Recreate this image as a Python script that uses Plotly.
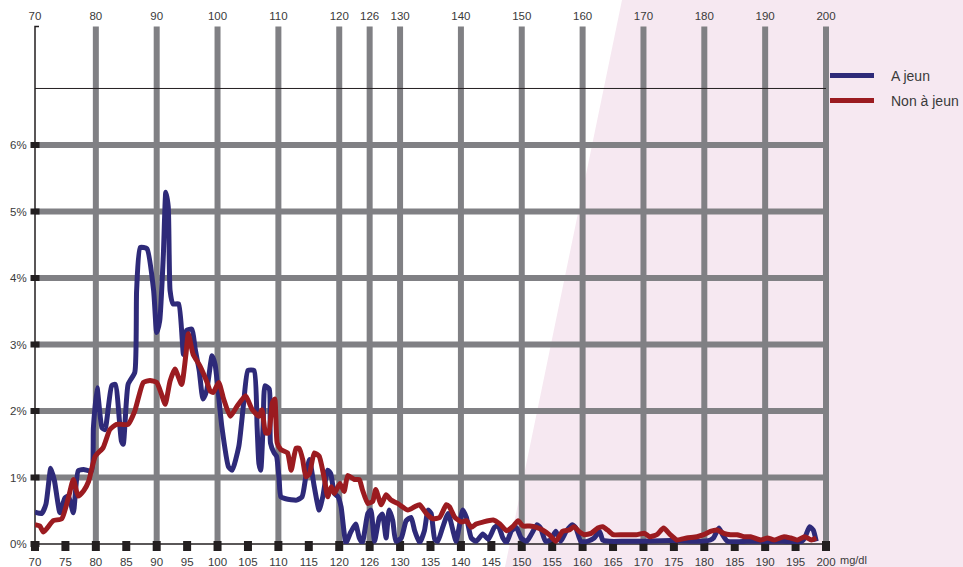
import plotly.graph_objects as go

# Répartition des glycémies (mg/dl) — fréquence en %
A_JEUN_X = [70, 71.1, 71.8, 72.6, 73.2, 74.1, 74.9, 75.5, 76.3, 77.1, 78.0, 79.3, 79.6, 80.2,
            81.0, 81.5, 82.6, 83.2, 84.2, 84.5, 85.3, 86.4, 86.7, 87.3, 88.4, 89.5, 90.0,
            90.5, 91.1, 91.5, 91.9, 92.2, 92.7, 93.6, 94.4, 94.9, 95.8, 96.3, 97.0, 97.6,
            98.2, 99.1, 99.6, 100.7, 101.8, 102.4, 103.5, 104.3, 105.0, 106.0, 106.5,
            106.8, 107.1, 107.5, 107.8, 108.5, 108.7, 109.3, 109.7, 110.1, 110.4, 111.2,
            113.0, 113.9, 114.5, 115.1, 115.9, 116.7, 117.3, 118.1, 118.6, 119.2, 119.8,
            120.3, 121.1, 121.9, 122.7, 123.3, 123.8, 124.7, 125.2, 125.8, 126.6, 127.1,
            127.7, 128.2, 128.8, 129.3, 130.2, 131.0, 131.8, 132.4, 133.2, 134.0, 134.6,
            135.1, 135.7, 136.2, 137.0, 137.9, 138.7, 139.2, 139.8, 140.3, 140.9, 141.7,
            142.5, 143.6, 144.5, 145.5, 146.1, 146.9, 147.5, 148.3, 149.1, 149.9, 150.8,
            151.6, 152.5, 153.1, 153.9, 154.7, 155.6, 156.4, 157.3, 158.3, 158.9, 159.7,
            160.8, 161.9, 162.8, 163.3, 164.4, 167.0, 170.0, 173.0, 176.0, 179.0, 181.0,
            181.5, 182.4, 183.0, 183.8, 187.0, 190.0, 193.0, 196.0, 196.5, 197.3, 197.9,
            198.4]
A_JEUN_Y = [0.48, 0.46, 0.60, 1.14, 0.95, 0.47, 0.69, 0.72, 0.47, 1.10, 1.12, 1.10, 1.75, 2.35,
            1.75, 1.72, 2.38, 2.40, 1.55, 1.50, 2.40, 2.58, 3.81, 4.46, 4.44, 3.81, 3.18,
            3.36, 4.36, 5.29, 5.07, 3.81, 3.61, 3.61, 2.85, 3.21, 3.23, 2.95, 2.60, 2.18,
            2.30, 2.83, 2.70, 1.77, 1.16, 1.11, 1.47, 2.13, 2.61, 2.61, 1.77,
            1.21, 1.11, 1.80, 2.38, 2.33, 1.52, 1.37, 1.32, 1.00, 0.71, 0.68,
            0.66, 0.71, 1.01, 1.27, 0.86, 0.51, 0.71, 1.11, 1.06, 0.76, 0.71,
            0.56, 0.02, 0.18, 0.30, 0.09, 0.02, 0.46, 0.51, 0.04, 0.40, 0.45,
            0.09, 0.51, 0.35, 0.04, 0.09, 0.35, 0.40, 0.20, 0.02, 0.20, 0.51,
            0.46, 0.07, 0.04, 0.25, 0.46, 0.20, 0.04, 0.30, 0.51, 0.40, 0.09,
            0.04, 0.15, 0.07, 0.25, 0.28, 0.09, 0.02, 0.20, 0.25, 0.09, 0.04,
            0.15, 0.29, 0.24, 0.04, 0.06, 0.19, 0.04, 0.19, 0.29, 0.24, 0.04,
            0.04, 0.09, 0.19, 0.06, 0.04, 0.04, 0.04, 0.05, 0.05, 0.04, 0.06,
            0.09, 0.24, 0.14, 0.04, 0.04, 0.04, 0.04, 0.04, 0.09, 0.26, 0.21,
            0.04]

NON_A_JEUN_X = [70, 70.8, 71.4, 73.0, 74.4, 75.5, 76.3, 77.1, 78.0, 78.8, 79.9, 81.2, 82.3,
                83.4, 85.3, 86.4, 87.8, 88.9, 90.0, 90.8, 91.4, 92.2, 93.0, 94.1, 94.8,
                95.2, 96.0, 97.1, 98.2, 98.8, 99.3, 100.2, 101.0, 102.1, 103.2, 104.6,
                105.7, 106.8, 107.3, 107.9, 108.4, 109.0, 109.4, 109.8, 110.4, 111.5,
                112.1, 112.9, 113.4, 114.0, 114.5, 115.1, 115.9, 116.7, 117.6, 118.1,
                118.7, 119.2, 120.1, 120.8, 121.4, 122.5, 123.3, 123.8, 124.7, 125.5,
                126.0, 126.9, 127.7, 128.5, 129.6, 131.3, 132.4, 133.2, 134.3, 135.4,
                136.5, 137.6, 138.1, 139.0, 140.1, 140.9, 141.7, 142.5, 143.6, 145.3,
                146.4, 147.5, 148.6, 149.4, 150.2, 151.3, 152.4, 153.4, 154.5, 155.6,
                156.7, 157.8, 158.6, 159.4, 160.3, 161.4, 162.5, 163.3, 164.1, 165.0,
                166.6, 168.8, 170.2, 171.0, 172.2, 173.3, 174.4, 175.5, 177.1, 178.8,
                179.9, 181.0, 182.1, 183.2, 184.3, 185.4, 186.5, 187.6, 189.3, 190.4,
                191.5, 193.1, 194.2, 195.3, 196.5, 197.6, 198.4]
NON_A_JEUN_Y = [0.29, 0.27, 0.18, 0.35, 0.38, 0.70, 0.97, 0.72, 0.80, 0.94, 1.32, 1.45, 1.72,
                1.80, 1.80, 2.00, 2.43, 2.46, 2.43, 2.25, 2.10, 2.45, 2.63, 2.40, 2.85,
                3.16, 2.85, 2.68, 2.45, 2.30, 2.28, 2.43, 2.18, 1.92, 2.07, 2.23,
                2.02, 1.92, 2.02, 1.67, 1.67, 2.12, 2.18, 1.52, 1.42, 1.37,
                1.11, 1.44, 1.44, 1.27, 1.01, 1.06, 1.37, 1.32, 0.96, 0.71,
                0.86, 0.76, 0.91, 0.79, 1.03, 0.97, 0.97, 0.82, 0.61, 0.64,
                0.82, 0.59, 0.74, 0.66, 0.61, 0.51, 0.56, 0.59, 0.46, 0.38,
                0.40, 0.59, 0.56, 0.40, 0.33, 0.35, 0.25, 0.30, 0.33, 0.36,
                0.30, 0.20, 0.27, 0.35, 0.27, 0.27, 0.25, 0.21, 0.14, 0.04,
                0.19, 0.21, 0.26, 0.19, 0.14, 0.16, 0.24, 0.26, 0.21, 0.14,
                0.14, 0.14, 0.16, 0.11, 0.14, 0.24, 0.14, 0.06, 0.09, 0.11,
                0.14, 0.19, 0.21, 0.16, 0.14, 0.14, 0.11, 0.11, 0.06, 0.09,
                0.06, 0.11, 0.09, 0.06, 0.11, 0.06, 0.09]

SERIES_NAMES = ["A jeun", "Non à jeun"]
SERIES_COLORS = ["#2e2a79", "#9b1b20"]

BOTTOM_TICKS = list(range(70, 205, 5))
BOTTOM_LABELS = ["126" if v == 125 else str(v) for v in BOTTOM_TICKS]
TOP_TICKS = [70, 80, 90, 100, 110, 120, 125, 130, 140, 150, 160, 170, 180, 190, 200]
TOP_LABELS = ["126" if v == 125 else str(v) for v in TOP_TICKS]
Y_TICKS = [0, 1, 2, 3, 4, 5, 6]
Y_LABELS = [f"{v}%" for v in Y_TICKS]
GRID_X = [80, 90, 100, 110, 120, 125, 130, 140, 150, 160, 170, 180, 190, 200]
GRID_Y = [1, 2, 3, 4, 5, 6]
REF_LINE_Y = 6.85
UNIT = "mg/dl"

# Page geometry
W, H = 963, 567
ML, MR, MT, MB = 35, 137, 28, 23
PW, PH = W - ML - MR, H - MT - MB
X_RANGE = [70, 200]
Y_RANGE = [0, PH / 66.5]

GRID_COLOR = "#808084"
INK = "#231f20"
TEXT = "#3a3a3a"
PINK = "#f6e8f1"
CLEAR = "rgba(0,0,0,0)"
FONT = "Liberation Sans, Arial, sans-serif"


def xp(v):
    return (v - X_RANGE[0]) / (X_RANGE[1] - X_RANGE[0])


def yp(v):
    return (v - Y_RANGE[0]) / (Y_RANGE[1] - Y_RANGE[0])


def px(p):
    return (p - ML) / PW


def py(p):
    return (H - MB - p) / PH


shapes = []

# pale pink band over the high-glycaemia side
pink_pts = [(505, H), (622, 0), (W, 0), (W, H)]
shapes.append(dict(
    type="path", xref="paper", yref="paper", layer="below", line=dict(width=0),
    fillcolor=PINK,
    path="M " + " L ".join(f"{px(a):.5f},{py(b):.5f}" for a, b in pink_pts) + " Z",
))

# thick grey grid
for v in GRID_X:
    shapes.append(dict(type="line", xref="paper", yref="paper", layer="below",
                       x0=xp(v), x1=xp(v), y0=yp(0), y1=1 + 1.5 / PH,
                       line=dict(color=GRID_COLOR, width=6)))
for v in GRID_Y:
    shapes.append(dict(type="line", xref="paper", yref="paper", layer="below",
                       x0=xp(70), x1=xp(200) + 3 / PW, y0=yp(v), y1=yp(v),
                       line=dict(color=GRID_COLOR, width=6)))

# thin reference line
shapes.append(dict(type="line", xref="paper", yref="paper", layer="below",
                   x0=xp(70), x1=xp(200), y0=yp(REF_LINE_Y), y1=yp(REF_LINE_Y),
                   line=dict(color=INK, width=1)))

# axis lines with the small hook at the top of the y axis
top = 1 + 1.5 / PH
shapes.append(dict(type="path", xref="paper", yref="paper", layer="below",
                   path=f"M {xp(70) + 4 / PW:.5f},{top:.5f} L {xp(70):.5f},{top:.5f} "
                        f"L {xp(70):.5f},{yp(0):.5f}",
                   line=dict(color=INK, width=1.5)))
shapes.append(dict(type="line", xref="paper", yref="paper", layer="below",
                   x0=xp(70), x1=xp(200) + 3 / PW, y0=yp(0), y1=yp(0),
                   line=dict(color=INK, width=1.5)))

# black square tick marks
for v in Y_TICKS:
    shapes.append(dict(type="rect", xref="paper", yref="paper", layer="below",
                       xsizemode="pixel", ysizemode="pixel",
                       xanchor=xp(70), yanchor=yp(v), x0=-4.5, x1=4.5, y0=-3, y1=3,
                       fillcolor=INK, line=dict(width=0)))
for v in BOTTOM_TICKS:
    shapes.append(dict(type="rect", xref="paper", yref="paper", layer="below",
                       xsizemode="pixel", ysizemode="pixel",
                       xanchor=xp(v), yanchor=yp(0), x0=-4, x1=4, y0=-7, y1=3,
                       fillcolor=INK, line=dict(width=0)))

# legend drawn by hand
legend_rows = [75.5, 100.5]
annotations = []
for name, color, row in zip(SERIES_NAMES, SERIES_COLORS, legend_rows):
    shapes.append(dict(type="line", xref="paper", yref="paper",
                       x0=px(830), x1=px(874), y0=py(row), y1=py(row),
                       line=dict(color=color, width=5)))
    annotations.append(dict(text=name, xref="paper", yref="paper", x=px(889), y=py(row),
                            xanchor="left", yanchor="middle", showarrow=False,
                            font=dict(family=FONT, size=14, color=TEXT)))

annotations.append(dict(text=UNIT, xref="paper", yref="paper", x=px(838), y=py(560),
                        xanchor="left", yanchor="middle", showarrow=False,
                        font=dict(family=FONT, size=11, color=TEXT)))

fig = go.Figure()
fig.add_trace(go.Scatter(x=A_JEUN_X, y=A_JEUN_Y, name=SERIES_NAMES[0], mode="lines",
                         line=dict(color=SERIES_COLORS[0], width=5, shape="spline",
                                   smoothing=0.5),
                         showlegend=False, hoverinfo="skip", xaxis="x", yaxis="y"))
fig.add_trace(go.Scatter(x=NON_A_JEUN_X, y=NON_A_JEUN_Y, name=SERIES_NAMES[1], mode="lines",
                         line=dict(color=SERIES_COLORS[1], width=5, shape="spline",
                                   smoothing=0.5),
                         showlegend=False, hoverinfo="skip", xaxis="x2", yaxis="y"))

tick_font = dict(family=FONT, size=11.5, color=TEXT)
fig.update_layout(
    width=W, height=H,
    margin=dict(l=ML, r=MR, t=MT, b=MB, pad=0, autoexpand=False),
    paper_bgcolor="white", plot_bgcolor=CLEAR,
    showlegend=False,
    xaxis=dict(range=X_RANGE, tickvals=BOTTOM_TICKS, ticktext=BOTTOM_LABELS,
               ticks="outside", ticklen=7, tickcolor=CLEAR, automargin=False,
               showgrid=False, zeroline=False, showline=False, tickfont=tick_font,
               fixedrange=True),
    xaxis2=dict(range=X_RANGE, overlaying="x", matches="x", side="top", anchor="y",
                tickvals=TOP_TICKS, ticktext=TOP_LABELS, automargin=False,
                ticks="outside", ticklen=2, tickcolor=CLEAR, showgrid=False,
                zeroline=False, showline=False, tickfont=tick_font),
    yaxis=dict(range=Y_RANGE, tickvals=Y_TICKS, ticktext=Y_LABELS, automargin=False,
               ticks="outside", ticklen=5, tickcolor=CLEAR, showgrid=False,
               zeroline=False, showline=False, tickfont=tick_font),
    shapes=shapes,
    annotations=annotations,
)

fig.write_html("out.html")
